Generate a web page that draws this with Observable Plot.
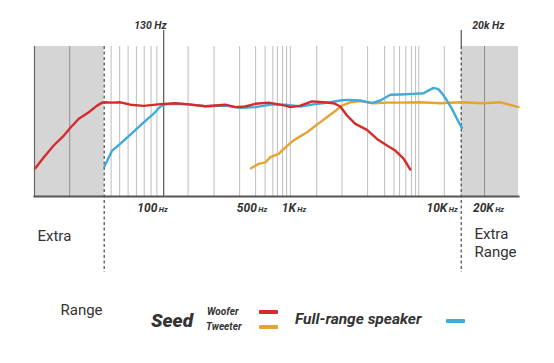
<!DOCTYPE html>
<html>
<head>
<meta charset="utf-8">
<script src="https://cdn.jsdelivr.net/npm/d3@7"></script>
<script src="https://cdn.jsdelivr.net/npm/@observablehq/plot@0.6"></script>
<style>
  html, body { margin: 0; padding: 0; background: #fff; }
  #wrap { position: relative; width: 554px; height: 363px; overflow: hidden; font-family: Roboto, "Noto Sans", sans-serif; color: #333; }
  #wrap svg { position: absolute; left: 0; top: 0; }
  .lg { position: absolute; white-space: nowrap; line-height: 1; }
  .sw { position: absolute; height: 4px; width: 19px; border-radius: 1px; }
</style>
</head>
<body>
<div id="wrap"></div>
<script>
// ---- data (frequency in Hz, relative level in dB) ----
const wooferFreq  = [14.8,17.1,20.2,24,26.8,30.9,36.6,42.1,45.9,47.7,54.3,62.5,74,92.7,122.9,158.5,198.5,263,369,437,518,613,768,1019,1109,1313,1600,1947,2306,2583,2893,3329,4057,4805,5690,6548,7535,8440];
const wooferLevel = [-20.6,-16.9,-13,-9.7,-7.1,-4.1,-1.9,0.3,1.3,1.4,1.3,1.4,0.6,0.2,0.8,1.1,0.7,0.1,0.6,-0.2,0,0.9,1.3,0.3,-0.2,0.3,1.7,1.4,1.1,0,-3,-5.8,-7.8,-10.8,-13,-14.7,-17.4,-21];

const tweeterFreq  = [570,648,726,791,910,1019,1172,1471,1842,2306,2658,3058,3623,4537,5690,7126,9995,14018,19660,29160,38690,52700];
const tweeterLevel = [-20.6,-19.1,-18.6,-16.9,-15.8,-13.6,-11.3,-8.6,-5.2,-1.9,0.3,1.4,1.8,1.1,1.3,1.3,1.4,1.1,1.4,1.1,1.4,-0.2];

const fullFreq  = [47.7,54.3,62.5,74,87.7,98.2,109.8,122.9,133.8,158.5,198.5,263,369,476,613,814,1019,1313,1644,2181,2583,2893,3623,4415,5080,6017,7126,8925,10569,11441,12515,13552,14500,15702,17087,18600,20236];
const fullLevel = [-20,-14.7,-12.4,-9.4,-6.3,-4.3,-2.4,0,0.7,0.9,0.7,0.1,0.3,-0.4,-0.2,0.7,0.6,0,0.7,1.4,2,2.2,2,1.1,2,3.9,4,4.2,4.4,5.3,6.2,5.8,4.3,2,-0.8,-4.1,-7.1];

const gridFreqs = [53.4,61.7,71.2,81.9,93.5,105,115.9,196.5,305,470,616,723,825,890,972,1041,1108,1733,2658,4099,5465,6405,7042,7822,8628,9233,9745,15004];
const extraGridFreqs = [26.5, 29660];
const rangeEdges = [47.5, 20000];          // dashed limits of the main range
const xDomain = [14.6, 52700];
const yDomain = [-30, 20];

const topMarkers = ["130 Hz", "20k Hz"];
const topMarkerFreqs = [130, 20000];

const tickLabels = ["100", "500", "1K", "10K", "20K"];
const tickLabelAt = [116.8, 629, 1217, 15780, 34650];   // where each label sits on the axis

const seriesNames  = ["Woofer", "Tweeter", "Full-range speaker"];
const seriesColors = ["#d42b2b", "#e5a431", "#41a9dc"];

// ---- tables ----
const woofer  = wooferFreq.map((f, i) => ({freq: f, level: wooferLevel[i]}));
const tweeter = tweeterFreq.map((f, i) => ({freq: f, level: tweeterLevel[i]}));
const full    = fullFreq.map((f, i) => ({freq: f, level: fullLevel[i]}));
const ticks   = tickLabels.map((t, i) => ({label: t, at: tickLabelAt[i]}));
const tops    = topMarkers.map((t, i) => ({label: t, at: topMarkerFreqs[i]}));

const numFont = "Roboto, 'Noto Sans', sans-serif";
const lineOpts = {x: "freq", y: "level", strokeWidth: 2.4, curve: "linear", strokeLinejoin: "round", strokeLinecap: "round"};

const chart = Plot.plot({
  width: 554, height: 363,
  marginLeft: 34, marginRight: 36, marginTop: 46, marginBottom: 167,
  x: {type: "log", domain: xDomain, axis: null},
  y: {domain: yDomain, axis: null},
  style: {fontFamily: numFont, background: "transparent", overflow: "visible"},
  marks: [
    // grey "extra range" bands
    Plot.rect([{a: xDomain[0], b: rangeEdges[0]}, {a: rangeEdges[1], b: xDomain[1]}], {x1: "a", x2: "b", fill: "#d5d5d5"}),
    Plot.ruleX(extraGridFreqs, {stroke: "#8e8e8e", strokeWidth: 1}),
    Plot.ruleX(gridFreqs, {stroke: "#bdbdbd", strokeWidth: 1}),
    Plot.ruleX([topMarkerFreqs[0]], {stroke: "#555", strokeWidth: 1.2, insetTop: -16}),
    Plot.ruleX([topMarkerFreqs[1]], {stroke: "#555", strokeWidth: 1.2, insetTop: -16, insetBottom: 150}),
    Plot.ruleX(rangeEdges, {stroke: "#555", strokeWidth: 1.3, strokeDasharray: "3,2.5", insetBottom: -76}),
    Plot.frame({anchor: "left", stroke: "#666", strokeWidth: 1.2}),
    Plot.frame({anchor: "bottom", stroke: "#555", strokeWidth: 2}),
    // curves
    Plot.line(tweeter, {...lineOpts, stroke: seriesColors[1]}),
    Plot.line(full, {...lineOpts, stroke: seriesColors[2]}),
    Plot.line(woofer, {...lineOpts, stroke: seriesColors[0]}),
    // top markers
    Plot.text(tops.slice(0, 1), {x: "at", text: "label", frameAnchor: "top", dy: -25, dx: 3, textAnchor: "end", fontSize: 10.5, fontWeight: "bold", fontStyle: "italic", fill: "#333"}),
    Plot.text(tops.slice(1), {x: "at", text: "label", frameAnchor: "top", dy: -25, dx: 11, textAnchor: "start", fontSize: 10.5, fontWeight: "bold", fontStyle: "italic", fill: "#333"}),
    // bottom tick labels
    Plot.text(ticks, {x: "at", text: "label", frameAnchor: "bottom", dy: 15, textAnchor: "end", fontSize: 12, fontWeight: "bold", fontStyle: "italic", fill: "#333"}),
    Plot.text(ticks, {x: "at", text: () => "Hz", frameAnchor: "bottom", dy: 15.5, dx: 1.5, textAnchor: "start", fontSize: 7.5, fontWeight: "bold", fontStyle: "italic", fill: "#333"}),
    // range annotations
    Plot.text(["Extra"], {frameAnchor: "bottom-left", dx: 3, dy: 44, textAnchor: "start", fontSize: 15, fill: "#333"}),
    Plot.text(["Range"], {frameAnchor: "bottom-left", dx: 26, dy: 118, textAnchor: "start", fontSize: 15, fill: "#333"}),
    Plot.text(["Extra"], {frameAnchor: "bottom-right", dx: -44, dy: 42, textAnchor: "start", fontSize: 15, fill: "#333"}),
    Plot.text(["Range"], {frameAnchor: "bottom-right", dx: -44, dy: 60, textAnchor: "start", fontSize: 15, fill: "#333"})
  ]
});

const wrap = document.getElementById("wrap");
wrap.appendChild(chart);

// ---- legend ----
function addText(txt, left, centerY, size, weight, style) {
  const d = document.createElement("div");
  d.className = "lg";
  d.textContent = txt;
  d.style.left = left + "px";
  d.style.top = (centerY - size * 0.55) + "px";
  d.style.fontSize = size + "px";
  d.style.fontWeight = weight;
  d.style.fontStyle = style;
  wrap.appendChild(d);
}
function addSwatch(color, left, centerY) {
  const s = document.createElement("div");
  s.className = "sw";
  s.style.background = color;
  s.style.left = left + "px";
  s.style.top = (centerY - 2) + "px";
  wrap.appendChild(s);
}
addText("Seed", 151, 321, 19, 900, "italic");
addText(seriesNames[0], 207, 312, 10, 700, "italic");
addText(seriesNames[1], 206, 327, 10, 700, "italic");
addSwatch(seriesColors[0], 259, 312);
addSwatch(seriesColors[1], 259, 327);
addText(seriesNames[2], 295, 321, 15.5, 700, "italic");
addSwatch(seriesColors[2], 446, 321);
</script>
</body>
</html>
